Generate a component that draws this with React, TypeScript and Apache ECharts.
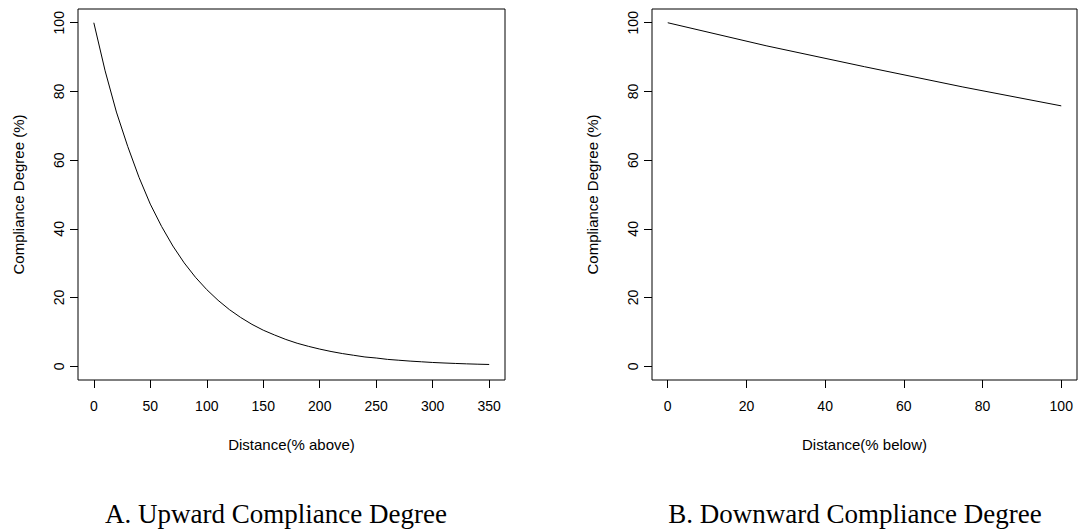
import React, { useEffect, useRef } from "react";
import * as echarts from "echarts";

// Panel A: upward compliance degree
const upX = [0, 10, 20, 30, 40, 50, 60, 70, 80, 90, 100, 110, 120, 130, 140, 150, 160, 170, 180, 190, 200, 210, 220, 230, 240, 250, 260, 270, 280, 290, 300, 310, 320, 330, 340, 350];
const upY = [100, 86, 74, 64, 55, 47.2, 40.7, 35, 30.1, 25.9, 22.3, 19.2, 16.5, 14.2, 12.2, 10.5, 9.1, 7.8, 6.7, 5.8, 5.0, 4.3, 3.7, 3.2, 2.7, 2.4, 2.0, 1.75, 1.5, 1.3, 1.1, 0.95, 0.82, 0.7, 0.6, 0.52];

// Panel B: downward compliance degree
const downX = [0, 25, 50, 75, 100];
const downY = [100, 93.3, 87.2, 81.3, 75.8];

const upTicks = [0, 50, 100, 150, 200, 250, 300, 350];
const downTicks = [0, 20, 40, 60, 80, 100];
const yTicks = [0, 20, 40, 60, 80, 100];

const yTitle = "Compliance Degree (%)";
const upXTitle = "Distance(% above)";
const downXTitle = "Distance(% below)";
const captionA = "A. Upward Compliance Degree";
const captionB = "B. Downward Compliance Degree";

const SANS = "Liberation Sans, Arial, Helvetica, sans-serif";
const SERIF = "Liberation Serif, Times New Roman, serif";

export default function App() {
  const ref = useRef<HTMLDivElement>(null);
  useEffect(() => {
    if (!ref.current) return;
    const chart = echarts.init(ref.current, null, { renderer: "svg" });

    const xAxisCommon = (ticks: number[], name: string, gridIndex: number, max: number) => {
      const pad = max * 0.04;
      return {
        type: "value",
        gridIndex,
        position: "bottom",
        min: -pad,
        max: max + pad,
        name,
        nameLocation: "middle",
        nameGap: 57,
        nameTextStyle: { fontFamily: SANS, fontSize: 15, color: "#000" },
        axisLine: { show: false, onZero: false },
        splitLine: { show: false },
        axisTick: { show: true, inside: false, length: 8, customValues: ticks, lineStyle: { color: "#000", width: 1 } },
        axisLabel: { show: true, customValues: ticks, margin: 19, fontFamily: SANS, fontSize: 14, color: "#000" },
      };
    };
    const yAxisCommon = (gridIndex: number) => ({
      type: "value",
      gridIndex,
      position: "left",
      min: -4,
      max: 104,
      name: yTitle,
      nameLocation: "middle",
      nameGap: 52,
      nameRotate: 90,
      nameTextStyle: { fontFamily: SANS, fontSize: 15, color: "#000" },
      axisLine: { show: false, onZero: false },
      splitLine: { show: false },
      axisTick: { show: true, inside: false, length: 8, customValues: yTicks, lineStyle: { color: "#000", width: 1 } },
      axisLabel: { show: true, customValues: yTicks, rotate: 90, margin: 12, fontFamily: SANS, fontSize: 14, color: "#000" },
    });

    const captionStyle = { fontFamily: SERIF, fontSize: 27, lineHeight: 27, fontWeight: "normal", color: "#000" };

    chart.setOption({
      animation: false,
      backgroundColor: "#fff",
      title: [
        { text: captionA, left: 276, top: 500, padding: 0, textAlign: "center", textStyle: captionStyle },
        { text: captionB, left: 855, top: 500, padding: 0, textAlign: "center", textStyle: captionStyle },
      ],
      grid: [
        { left: 78, top: 9, width: 427, height: 371, show: true, borderColor: "#000", borderWidth: 1, backgroundColor: "transparent" },
        { left: 652, top: 9, width: 425, height: 371, show: true, borderColor: "#000", borderWidth: 1, backgroundColor: "transparent" },
      ],
      xAxis: [xAxisCommon(upTicks, upXTitle, 0, 350), xAxisCommon(downTicks, downXTitle, 1, 100)],
      yAxis: [yAxisCommon(0), yAxisCommon(1)],
      series: [
        {
          type: "line",
          xAxisIndex: 0,
          yAxisIndex: 0,
          data: upX.map((x, i) => [x, upY[i]]),
          showSymbol: false,
          smooth: false,
          lineStyle: { color: "#000", width: 1 },
        },
        {
          type: "line",
          xAxisIndex: 1,
          yAxisIndex: 1,
          data: downX.map((x, i) => [x, downY[i]]),
          showSymbol: false,
          smooth: false,
          lineStyle: { color: "#000", width: 1 },
        },
      ],
    });
    return () => chart.dispose();
  }, []);
  return <div ref={ref} style={{ position: "absolute", left: 0, top: 0, width: 1078, height: 531 }} />;
}
